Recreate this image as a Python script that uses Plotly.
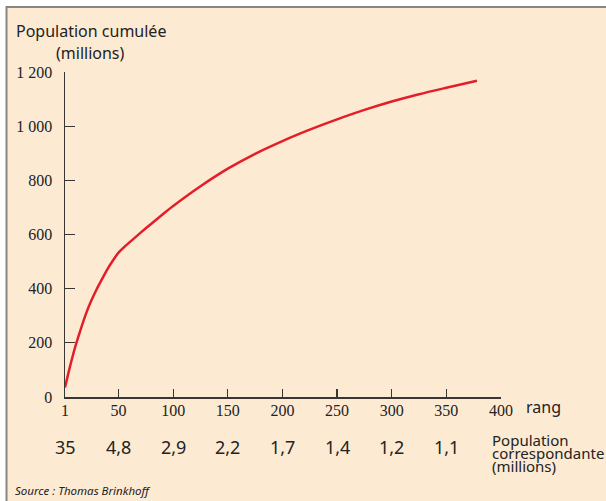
import plotly.graph_objects as go

# ---- data ----
rank = [1, 5, 10, 15, 20, 25, 30, 35, 40, 45, 50, 55, 60, 70, 80, 90, 100,
        125, 150, 175, 200, 225, 250, 275, 300, 325, 350, 378]
cum_pop = [35, 103, 180, 245, 305, 355, 398, 436, 473, 505, 533, 553, 571, 606,
           640, 673, 705, 778, 843, 898, 945, 987, 1025, 1060, 1091, 1118, 1142, 1168]

x_ticks = [1, 50, 100, 150, 200, 250, 300, 350, 400]
y_ticks = [0, 200, 400, 600, 800, 1000, 1200]
y_tick_labels = ["0", "200", "400", "600", "800", "1 000", "1 200"]
pop_ranks = [1, 50, 100, 150, 200, 250, 300, 350]
pop_labels = ["35", "4,8", "2,9", "2,2", "1,7", "1,4", "1,2", "1,1"]

# ---- layout geometry ----
W, H = 606, 501
L, R, T, B = 65, 105, 72, 104
PW, PH = W - L - R, H - T - B


def px_x(p):
    return (p - L) / PW


def px_y(p):
    return 1 - (p - T) / PH


BG = "#FDEAD3"
AX = "#3a3633"
SERIF = "Liberation Serif"
SANS = "Noto Sans"

fig = go.Figure()
fig.add_trace(go.Scatter(
    x=rank, y=cum_pop, mode="lines",
    line=dict(color="#E41E28", width=2.5, shape="spline", smoothing=0.8),
    hoverinfo="skip", showlegend=False))

fig.update_layout(
    width=W, height=H,
    margin=dict(l=L, r=R, t=T, b=B, pad=0),
    paper_bgcolor="white", plot_bgcolor="rgba(0,0,0,0)",
    showlegend=False,
    xaxis=dict(range=[1, 400], tickvals=x_ticks, ticktext=[str(v) for v in x_ticks],
               showgrid=False, zeroline=False, showline=True, linecolor=AX, linewidth=1.5,
               ticks="inside", ticklen=8, tickwidth=1.2, tickcolor=AX,
               tickfont=dict(family=SERIF, size=16, color="#222"), ticklabelstandoff=-2),
    yaxis=dict(range=[0, 1200], tickvals=y_ticks, ticktext=y_tick_labels,
               showgrid=False, zeroline=False, showline=True, linecolor=AX, linewidth=1.5,
               ticks="inside", ticklen=10, tickwidth=1.2, tickcolor=AX,
               tickfont=dict(family=SERIF, size=16, color="#222"), ticklabelstandoff=8),
)

# frame / background
fig.add_shape(type="rect", xref="paper", yref="paper", layer="below",
              x0=px_x(6.5), x1=px_x(W + 10), y0=px_y(7), y1=px_y(H + 10),
              fillcolor=BG, line=dict(color="#8a8580", width=2))

ann = []
ann.append(dict(text="Population cumulée", x=px_x(14), y=px_y(31), xanchor="left", yanchor="middle",
                font=dict(family=SANS, size=16, color="#222")))
ann.append(dict(text="(millions)", x=px_x(54), y=px_y(53), xanchor="left", yanchor="middle",
                font=dict(family=SANS, size=16, color="#222")))
ann.append(dict(text="rang", x=px_x(524), y=px_y(407), xanchor="left", yanchor="middle",
                font=dict(family=SANS, size=16, color="#222")))
for i, line in enumerate(["Population", "correspondante", "(millions)"]):
    ann.append(dict(text=line, x=px_x(490), y=px_y(440 + 13 * i), xanchor="left", yanchor="middle",
                    font=dict(family=SANS, size=15, color="#222")))
for r, lab in zip(pop_ranks, pop_labels):
    ann.append(dict(text=lab, x=r, xref="x", y=px_y(447), xanchor="center", yanchor="middle",
                    font=dict(family=SANS, size=18, color="#222")))
ann.append(dict(text="<i>Source : Thomas Brinkhoff</i>", x=px_x(13), y=px_y(490), xanchor="left",
                yanchor="middle", font=dict(family=SANS, size=11.5, color="#222")))

for a in ann:
    a.setdefault("xref", "paper")
    a.setdefault("yref", "paper")
    a["showarrow"] = False
fig.update_layout(annotations=ann)

fig.write_html("out.html", config={"displayModeBar": False, "staticPlot": True},
               post_script="document.body.style.margin='0';document.body.style.overflow='hidden';")
